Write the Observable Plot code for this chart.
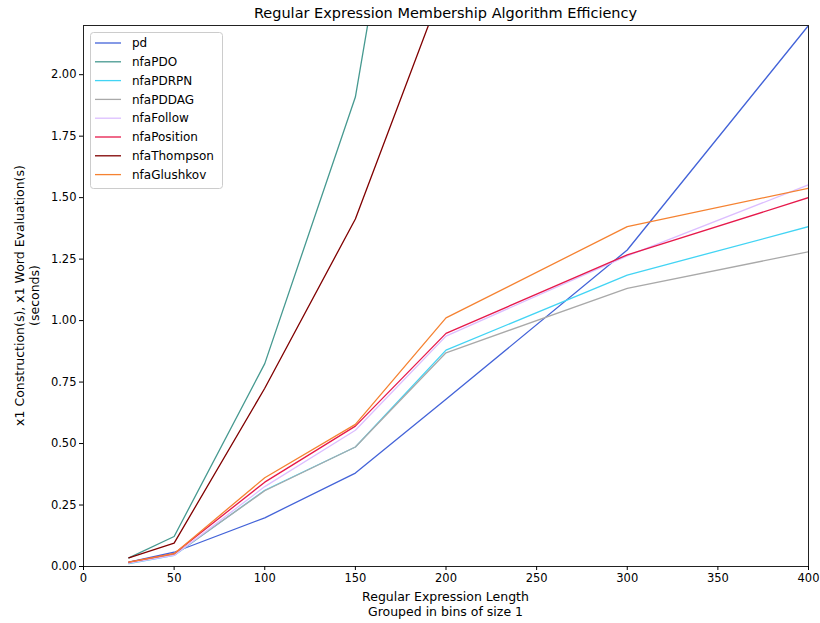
<!DOCTYPE html>
<html>
<head>
<meta charset="utf-8">
<script src="https://cdn.jsdelivr.net/npm/d3@7"></script>
<script src="https://cdn.jsdelivr.net/npm/@observablehq/plot@0.6"></script>
<style>
  html, body { margin: 0; padding: 0; background: #fff; }
  #chart { width: 820px; height: 623px; }
</style>
</head>
<body>
<div id="chart"></div>
<script>
const lengths = [25, 50, 100, 150, 200, 300, 400];
const seriesNames = ["pd", "nfaPDO", "nfaPDRPN", "nfaPDDAG", "nfaFollow", "nfaPosition", "nfaThompson", "nfaGlushkov"];
const seriesColors = ["#4363d8", "#469990", "#42d4f4", "#a9a9a9", "#dcbeff", "#e6194b", "#800000", "#f58231"];
const pd          = [0.018, 0.058, 0.198, 0.380, 0.680, 1.287, 2.200];
const nfaPDO      = [0.035, 0.122, 0.825, 1.909, 4.070];
const nfaPDRPN    = [0.012, 0.045, 0.310, 0.486, 0.880, 1.185, 1.382];
const nfaPDDAG    = [0.015, 0.047, 0.308, 0.486, 0.869, 1.131, 1.280];
const nfaFollow   = [0.014, 0.045, 0.325, 0.554, 0.937, 1.263, 1.552];
const nfaPosition = [0.018, 0.052, 0.343, 0.571, 0.948, 1.267, 1.500];
const nfaThompson = [0.035, 0.095, 0.725, 1.413, 2.390];
const nfaGlushkov = [0.018, 0.052, 0.361, 0.578, 1.011, 1.382, 1.538];
const xTicks = [0, 50, 100, 150, 200, 250, 300, 350, 400];
const yTicks = [0, 0.25, 0.5, 0.75, 1.0, 1.25, 1.5, 1.75, 2.0];
const title = "Regular Expression Membership Algorithm Efficiency";
const xLabel = ["Regular Expression Length", "Grouped in bins of size 1"];
const yLabel = ["x1 Construction(s), x1 Word Evaluation(s)", "(seconds)"];

const allValues = [pd, nfaPDO, nfaPDRPN, nfaPDDAG, nfaFollow, nfaPosition, nfaThompson, nfaGlushkov];
const rows = [];
seriesNames.forEach((name, i) => {
  allValues[i].forEach((v, j) => rows.push({series: name, x: lengths[j], y: v}));
});

const W = 820, H = 623;
const mL = 83, mR = 12, mT = 25, mB = 57;
const font = "DejaVu Sans, sans-serif";

const plot = Plot.plot({
  width: W, height: H,
  marginLeft: mL, marginRight: mR, marginTop: mT, marginBottom: mB,
  style: {fontFamily: font, fontSize: "11.5px", background: "#fff", color: "#000"},
  x: {domain: [0, 400], ticks: xTicks, tickSize: 4, tickPadding: 3, label: null},
  y: {domain: [0, 2.2], ticks: yTicks, tickSize: 4, tickPadding: 3, tickFormat: d3.format(".2f"), label: null},
  color: {domain: seriesNames, range: seriesColors},
  marks: [
    Plot.line(rows, {x: "x", y: "y", z: "series", stroke: "series", strokeWidth: 1.3, clip: true}),
    Plot.frame({stroke: "#222", strokeWidth: 1}),
    Plot.axisX({ticks: xTicks, tickSize: 4, tickPadding: 3, fontSize: 11.5, label: null}),
    Plot.axisY({ticks: yTicks, tickSize: 4, tickPadding: 3, tickFormat: d3.format(".2f"), fontSize: 11.5, label: null})
  ]
});

document.getElementById("chart").appendChild(plot);
const svg = d3.select(plot);

// Title
svg.append("text").attr("x", (mL + W - mR) / 2).attr("y", 18)
  .attr("text-anchor", "middle").attr("font-family", font).attr("font-size", 14.5)
  .attr("fill", "#000").text(title);

// X label
xLabel.forEach((t, i) => {
  svg.append("text").attr("x", (mL + W - mR) / 2).attr("y", 601 + i * 15)
    .attr("text-anchor", "middle").attr("font-family", font).attr("font-size", 12.5)
    .attr("fill", "#000").text(t);
});

// Y label
const yc = (mT + H - mB) / 2;
yLabel.forEach((t, i) => {
  svg.append("text").attr("transform", `translate(${24 + i * 15},${yc}) rotate(-90)`)
    .attr("text-anchor", "middle").attr("font-family", font).attr("font-size", 12.5)
    .attr("fill", "#000").text(t);
});

// Legend
const lg = svg.append("g").attr("transform", "translate(90,32)");
lg.append("rect").attr("x", 0.5).attr("y", 0.5).attr("width", 132).attr("height", 156)
  .attr("rx", 3).attr("fill", "#fff").attr("fill-opacity", 0.85).attr("stroke", "#ccc");
seriesNames.forEach((name, i) => {
  const yy = 11 + i * 18.8;
  lg.append("line").attr("x1", 5).attr("x2", 31).attr("y1", yy).attr("y2", yy)
    .attr("stroke", seriesColors[i]).attr("stroke-width", 1.3);
  lg.append("text").attr("x", 42).attr("y", yy).attr("dy", "0.35em")
    .attr("text-anchor", "start")
    .attr("font-family", font).attr("font-size", 12).attr("fill", "#000").text(name);
});
</script>
</body>
</html>
